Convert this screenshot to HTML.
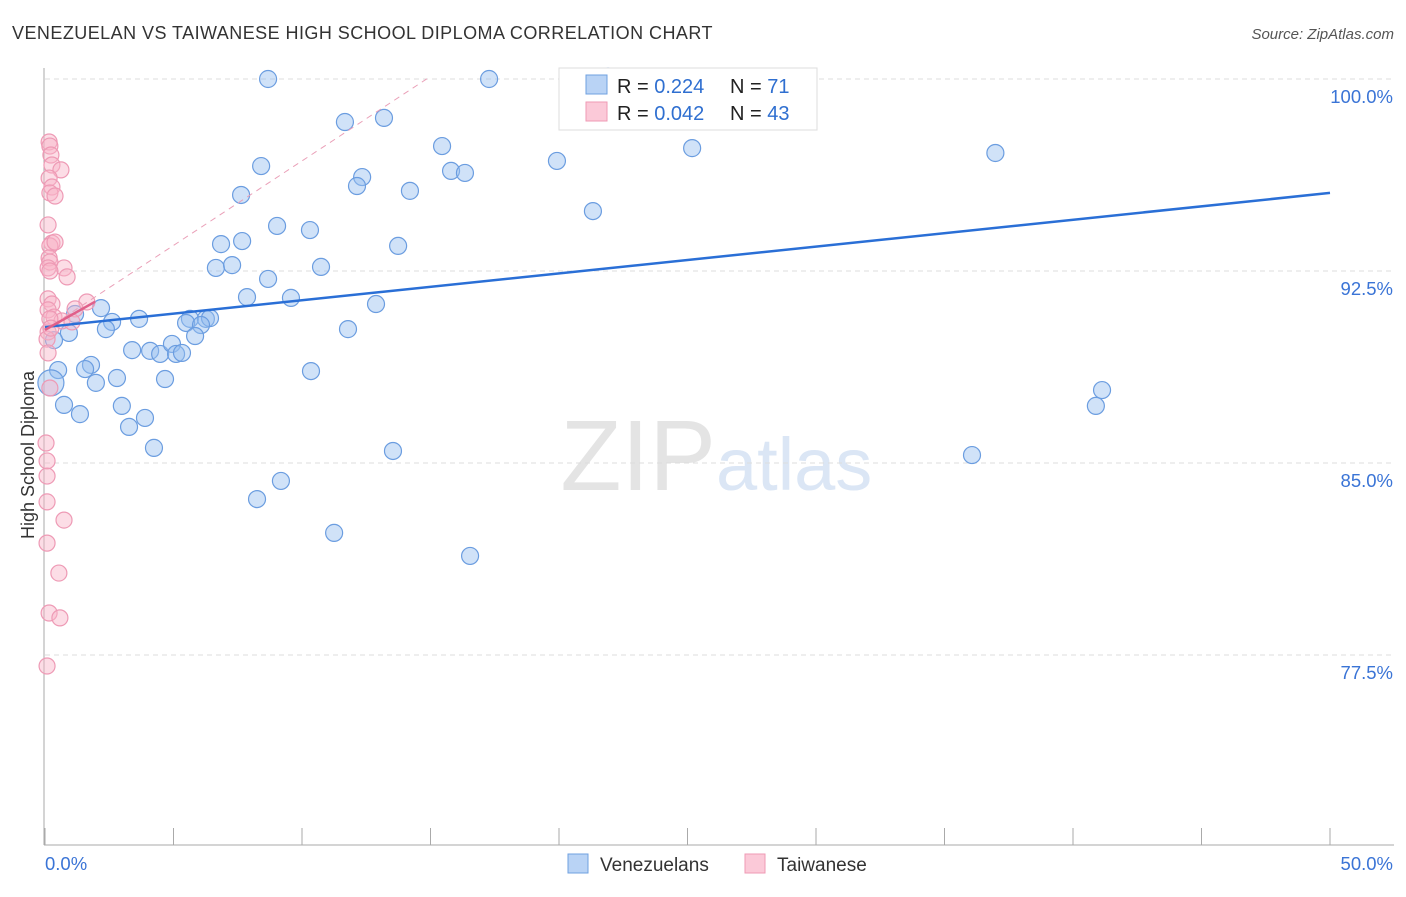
<!DOCTYPE html>
<html><head><meta charset="utf-8">
<style>
body{margin:0;background:#fff;font-family:"Liberation Sans",sans-serif;}
svg text{font-family:"Liberation Sans",sans-serif;}
</style></head>
<body>
<svg id="chart" width="1406" height="892" xmlns="http://www.w3.org/2000/svg">
<text x="12" y="39" font-size="18" fill="#333" letter-spacing="0.45">VENEZUELAN VS TAIWANESE HIGH SCHOOL DIPLOMA CORRELATION CHART</text>
<text x="1394" y="39" font-size="15" fill="#555" font-style="italic" text-anchor="end">Source: ZipAtlas.com</text>
<text x="716" y="490" font-size="100" fill="#e4e4e4" font-family="Liberation Serif" text-anchor="end">ZIP</text>
<text x="716" y="490" font-size="74" fill="#dbe6f5">atlas</text>
<g id="grid"></g>
<g id="axes"></g>
<g id="pts"></g>
<g id="trends"></g>
<text transform="translate(34,455) rotate(-90)" font-size="18" fill="#333" text-anchor="middle">High School Diploma</text>
<g>
<rect x="559" y="68" width="258" height="62" fill="#fff" stroke="#ddd"/>
<rect x="586" y="75" width="21" height="19" fill="#b9d3f5" stroke="#6fa0e0"/>
<rect x="586" y="102" width="21" height="19" fill="#fbc9d8" stroke="#ef9ab4"/>
<text x="617" y="93" font-size="20" fill="#222">R = <tspan fill="#2f6fd0">0.224</tspan></text>
<text x="730" y="93" font-size="20" fill="#222">N = <tspan fill="#2f6fd0"> 71</tspan></text>
<text x="617" y="120" font-size="20" fill="#222">R = <tspan fill="#2f6fd0">0.042</tspan></text>
<text x="730" y="120" font-size="20" fill="#222">N = <tspan fill="#2f6fd0">43</tspan></text>
</g>
<g>
<rect x="568" y="854" width="20" height="19" fill="#b9d3f5" stroke="#6fa0e0"/>
<text x="600" y="871" font-size="19" fill="#333">Venezuelans</text>
<rect x="745" y="854" width="20" height="19" fill="#fbc9d8" stroke="#ef9ab4"/>
<text x="777" y="871" font-size="19" fill="#333">Taiwanese</text>
</g>
</svg>
<script>
const yTicks=[100,92.5,85,77.5];
const yTickLabels=["100.0%","92.5%","85.0%","77.5%"];
const xLabels=["0.0%","50.0%"];
const blueX=[8.68,17.28,11.67,13.19,15.45,19.92,25.18,36.98,8.41,15.8,16.34,12.34,12.14,14.2,7.63,21.32,9.03,10.31,6.85,7.67,13.74,6.65,7.28,10.74,8.68,7.86,9.57,12.88,2.18,1.17,3.66,2.61,5.64,5.49,6.26,6.42,6.07,2.37,11.79,0.93,0.35,5.84,3.39,4.09,4.48,4.94,5.1,5.33,1.79,1.56,10.35,0.51,2.8,4.67,1.98,0.23,0.74,2.99,1.36,3.89,3.27,4.24,13.54,41.13,40.89,36.07,9.18,8.25,11.25,16.54,21.91];
const blueY=[100,100,98.32,98.48,97.38,96.8,97.3,97.11,96.6,96.41,96.33,96.17,95.82,95.63,95.47,94.84,94.26,94.1,93.55,93.67,93.48,92.62,92.73,92.66,92.19,91.48,91.45,91.21,91.05,90.82,90.63,90.51,90.63,90.47,90.63,90.66,90.39,90.23,90.23,90.08,89.8,89.96,89.41,89.38,89.26,89.65,89.26,89.3,88.83,88.67,88.59,88.63,88.32,88.28,88.13,88.13,87.27,87.23,86.91,86.76,86.41,85.59,85.47,87.85,87.23,85.31,84.3,83.59,82.27,81.37,100.1];
const pinkX=[0.16,0.19,0.23,0.27,0.62,0.16,0.27,0.19,0.39,0.12,0.27,0.19,0.16,0.19,0.12,0.74,0.86,0.12,0.27,0.12,0.35,0.66,1.63,1.17,0.19,0.12,0.08,0.12,0.19,0.04,0.08,0.08,0.08,0.74,0.08,0.54,0.16,0.58,0.08,0.19,0.39,1.05,0.23];
const pinkY=[97.54,97.38,97.03,96.64,96.45,96.13,95.78,95.55,95.43,94.3,93.59,93.48,93.01,92.85,92.62,92.62,92.27,91.41,91.21,90.98,90.7,90.55,91.29,91.02,90.63,90.12,89.84,89.3,87.93,85.78,85.08,84.49,83.48,82.77,81.87,80.7,79.14,78.95,77.07,92.5,93.63,90.51,90.27];
const NS="http://www.w3.org/2000/svg";
const X0=45,X1=1330,Y0=79,PPY=25.6;
const xs=v=>X0+(v/50)*(X1-X0);
const ys=v=>Y0+(100-v)*PPY;
function mk(tag,attrs,parent){const e=document.createElementNS(NS,tag);for(const k in attrs)e.setAttribute(k,attrs[k]);parent.appendChild(e);return e;}
const grid=document.getElementById('grid'),axes=document.getElementById('axes'),pts=document.getElementById('pts'),tr=document.getElementById('trends');
yTicks.forEach((t,i)=>{
 const l=mk('line',{x1:45,x2:1394,y1:ys(t),y2:ys(t),stroke:'#ddd','stroke-dasharray':'5,4'},grid);
 
 
 const tx=mk('text',{x:1393,y:ys(t)+24,'font-size':18.5,fill:'#3a74d6','text-anchor':'end'},axes);
 tx.textContent=yTickLabels[i];
 
 
});
const ax=mk('line',{x1:44,x2:44,y1:68,y2:845,stroke:'#aaa'},axes);


const bx=mk('line',{x1:44,x2:1394,y1:845,y2:845,stroke:'#aaa'},axes);


for(let i=0;i<=10;i++){const x=xs(i*5);const t=mk('line',{x1:x,x2:x,y1:828,y2:845,stroke:'#aaa'},axes);
 
 }
[[45,'start',0],[1393,'end',1]].forEach(([x,a,i])=>{const t=mk('text',{x:x,y:870,'font-size':18.5,fill:'#3a74d6','text-anchor':a},axes);t.textContent=xLabels[i];
 
 });
blueX.forEach((v,i)=>{const c=mk('circle',{cx:xs(v),cy:ys(blueY[i]),r:(i==55?13:8.5),fill:'rgba(150,190,240,0.45)',stroke:'#6b9de0','stroke-width':1.2},pts);
 
 });
pinkX.forEach((v,i)=>{const c=mk('circle',{cx:xs(v),cy:ys(pinkY[i]),r:8,fill:'rgba(248,180,200,0.45)',stroke:'#ee9ab5','stroke-width':1.2},pts);
 
 });
const b=mk('line',{x1:xs(0),y1:ys(90.31),x2:xs(50),y2:ys(95.55),stroke:'#2a6fd6','stroke-width':2.5},tr);


const pd=mk('line',{x1:xs(0),y1:ys(90.2),x2:xs(15),y2:ys(100.1),stroke:'#eaa0b8','stroke-width':1,'stroke-dasharray':'6,5'},tr);


const p=mk('line',{x1:xs(0),y1:ys(90.2),x2:xs(1.95),y2:ys(91.3),stroke:'#e0608a','stroke-width':2.5},tr);


</script>
</body></html>
